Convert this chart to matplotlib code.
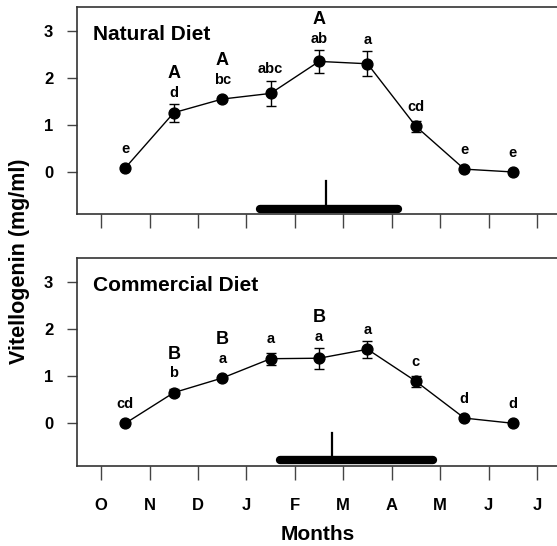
import numpy as np
import matplotlib.pyplot as plt

plt.rcParams['font.family'] = ['Liberation Sans', 'DejaVu Sans']
plt.rcParams['font.weight'] = 'bold'

# Month of sampling (ticks at month starts, samples mid-month)
months = ['O', 'N', 'D', 'J', 'F', 'M', 'A', 'M', 'J', 'J']
sample_x = [0.5, 1.5, 2.5, 3.5, 4.5, 5.5, 6.5, 7.5, 8.5]

# Natural diet: mean vitellogenin (mg/ml) and SE
nat_mean = [0.09, 1.26, 1.55, 1.67, 2.35, 2.30, 0.97, 0.06, 0.00]
nat_se = [0.00, 0.19, 0.05, 0.27, 0.24, 0.27, 0.11, 0.04, 0.00]
nat_letters = ['e', 'd', 'bc', 'abc', 'ab', 'a', 'cd', 'e', 'e']
nat_caps = ['', 'A', 'A', '', 'A', '', '', '', '']

# Commercial diet
com_mean = [0.00, 0.65, 0.96, 1.37, 1.38, 1.57, 0.89, 0.11, 0.00]
com_se = [0.00, 0.07, 0.05, 0.13, 0.22, 0.18, 0.12, 0.03, 0.00]
com_letters = ['cd', 'b', 'a', 'a', 'a', 'a', 'c', 'd', 'd']
com_caps = ['', 'B', 'B', '', 'B', '', '', '', '']

# Spawning period (start, end) and peak, in month units
nat_spawn = (3.29, 6.14)
nat_peak = 4.64
com_spawn = (3.69, 6.85)
com_peak = 4.77

fig = plt.figure(figsize=(5.57, 5.46), dpi=100)
ax1 = fig.add_axes([0.1382, 0.6075, 0.878, 0.3791])
ax2 = fig.add_axes([0.1382, 0.1471, 0.878, 0.3798])

panels = [
    (ax1, nat_mean, nat_se, nat_letters, nat_caps, nat_spawn, nat_peak, 'Natural Diet'),
    (ax2, com_mean, com_se, com_letters, com_caps, com_spawn, com_peak, 'Commercial Diet'),
]

for ax, mean, se, letters, caps, spawn, peak, title in panels:
    ax.errorbar(sample_x, mean, yerr=se, color='black', lw=1.0, marker='o',
                ms=7.8, capsize=3.5, elinewidth=1.0, capthick=1.0)
    for x, m, s, lt, cp in zip(sample_x, mean, se, letters, caps):
        top = max(m + s, m + 0.17) + 0.09
        ax.text(x, top, lt, ha='center', va='bottom', fontsize=10.5,
                fontweight='bold')
        if cp:
            ax.text(x, top + 0.37, cp, ha='center', va='bottom', fontsize=13,
                    fontweight='bold')
    # spawning season bar with peak marker
    ax.plot(spawn, [-0.79, -0.79], color='black', lw=6, solid_capstyle='round')
    ax.plot([peak, peak], [-0.79, -0.2], color='black', lw=1.6)
    ax.text(-0.17, 2.93, title, ha='left', va='center', fontsize=15,
            fontweight='bold')

    ax.set_xlim(-0.5, 9.6)
    ax.set_ylim(-0.9, 3.5)
    ax.set_yticks([0, 1, 2, 3])
    ax.set_xticks(np.arange(len(months)))
    ax.tick_params(axis='y', length=7, width=1.0, pad=10, labelsize=12,
                   color='#444444')
    ax.tick_params(axis='x', length=10, width=1.0, pad=13, labelsize=12,
                   color='#444444')
    for sp in ax.spines.values():
        sp.set_color('#333333')
        sp.set_linewidth(1.2)

ax1.set_xticklabels([])
ax2.set_xticklabels(months)
for lab in ax1.get_yticklabels() + ax2.get_yticklabels() + ax2.get_xticklabels():
    lab.set_fontweight('bold')

fig.text(318 / 557, 1 - 534 / 546, 'Months', ha='center', va='center',
         fontsize=15, fontweight='bold')
fig.text(20 / 557, 1 - 261 / 546, 'Vitellogenin (mg/ml)', ha='center',
         va='center', rotation=90, fontsize=15.5, fontweight='bold')

fig.savefig('out.png', dpi=100)
